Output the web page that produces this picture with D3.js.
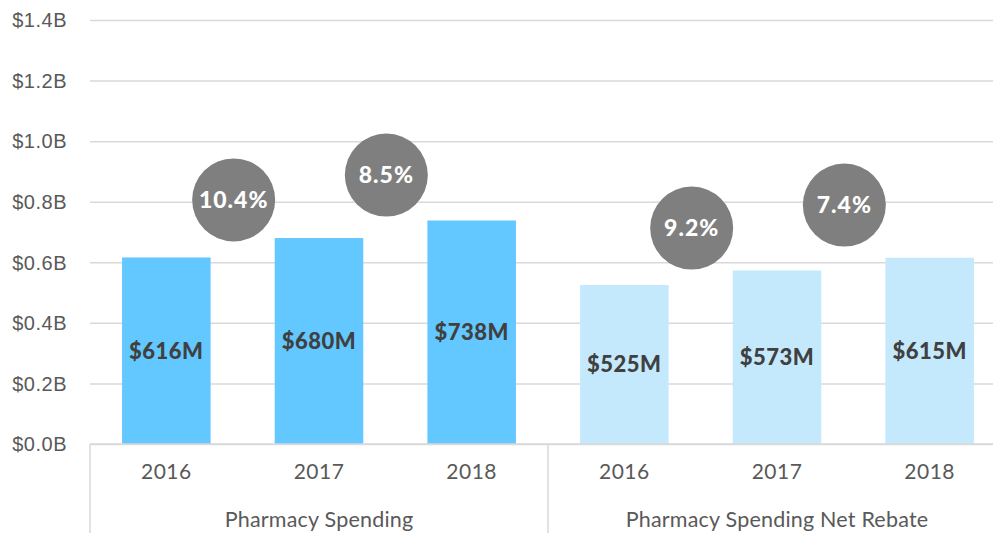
<!DOCTYPE html>
<html>
<head>
<meta charset="utf-8">
<script src="https://cdn.jsdelivr.net/npm/d3@7"></script>
<style>
  html, body { margin: 0; padding: 0; background: #fff; overflow: hidden; }
  svg { display: block; font-family: Lato, "Open Sans", sans-serif; }
</style>
</head>
<body>
<svg id="chart" width="993" height="533"></svg>
<script>
// data
const groups = ['Pharmacy Spending', 'Pharmacy Spending Net Rebate'];
const years = ['2016', '2017', '2018'];
const spending = [616, 680, 738];       // $M
const spendingNet = [525, 573, 615];    // $M
const growthSpending = [10.4, 8.5];     // % year over year
const growthNet = [9.2, 7.4];
// height (in $B) where each growth bubble sits
const bubbleAtSpending = [0.806, 0.888];
const bubbleAtNet = [0.713, 0.789];
const yTicks = [0, 0.2, 0.4, 0.6, 0.8, 1.0, 1.2, 1.4];

const colours = ['#63c8ff', '#c4e9fd'];
const grid = '#d9d9d9';

const svg = d3.select('#chart');
const margin = { left: 90, top: 20, bottom: 89 };
const height = 533;
const plotRight = 1006; // last band runs past the window edge

// one row per bar
const rows = [];
[spending, spendingNet].forEach((vals, gi) => {
    vals.forEach((v, i) => rows.push({ key: gi + '-' + years[i], group: gi, year: years[i], value: v }));
});

const x = d3.scaleBand()
    .domain(rows.map(d => d.key))
    .range([margin.left, plotRight])
    .paddingInner(0.42)
    .paddingOuter(0.21);

const y = d3.scaleLinear()
    .domain([0, 1.4])
    .range([height - margin.bottom, margin.top]);

const y0 = y(0);

// gridlines + y labels
const yAxis = svg.append('g')
    .attr('transform', 'translate(' + margin.left + ',0)')
    .call(d3.axisLeft(y)
        .tickValues(yTicks)
        .tickSize(-(plotRight - margin.left))
        .tickPadding(23)
        .tickFormat(d => '$' + d.toFixed(1) + 'B'));
yAxis.select('.domain').remove();
yAxis.selectAll('.tick line').attr('stroke', grid).attr('stroke-width', 1.5);
yAxis.selectAll('.tick text')
    .attr('fill', '#595959')
    .attr('font-size', 20)
    .attr('letter-spacing', 0.5)
    .attr('dy', '0.34em');

// bars
svg.append('g').selectAll('rect')
    .data(rows)
    .enter().append('rect')
    .attr('x', d => x(d.key))
    .attr('width', x.bandwidth())
    .attr('y', d => y(d.value / 1000))
    .attr('height', d => y0 - y(d.value / 1000))
    .attr('fill', d => colours[d.group]);

// value labels in the middle of each bar
svg.append('g').selectAll('text')
    .data(rows)
    .enter().append('text')
    .attr('x', d => x(d.key) + x.bandwidth() / 2)
    .attr('y', d => (y(d.value / 1000) + y0) / 2)
    .attr('dy', '0.36em')
    .attr('text-anchor', 'middle')
    .attr('font-size', 22)
    .attr('letter-spacing', 0.5)
    .attr('font-weight', 900)
    .attr('fill', '#404040')
    .text(d => '$' + d.value + 'M');

// growth bubbles, sitting on the band boundary between two years
const step = x.step();
const bubbles = [];
[[growthSpending, bubbleAtSpending], [growthNet, bubbleAtNet]].forEach(([g, at], gi) => {
    g.forEach((v, i) => bubbles.push({ group: gi, i: i, value: v, at: at[i] }));
});
const bx = d => x(d.group + '-' + years[d.i + 1]) - x.paddingInner() * step / 2 - 9;

const bub = svg.append('g').selectAll('g')
    .data(bubbles)
    .enter().append('g')
    .attr('transform', d => 'translate(' + bx(d) + ',' + y(d.at) + ')');
bub.append('circle')
    .attr('r', 41.5)
    .attr('fill', '#7f7f7f');
bub.append('text')
    .attr('text-anchor', 'middle')
    .attr('dy', '0.36em')
    .attr('font-size', 23)
    .attr('letter-spacing', 1)
    .attr('font-weight', 900)
    .attr('fill', '#fff')
    .text(d => d.value.toFixed(1) + '%');

// baseline and group separators
svg.append('line')
    .attr('x1', margin.left).attr('x2', plotRight)
    .attr('y1', y0).attr('y2', y0)
    .attr('stroke', grid).attr('stroke-width', 1.5);

const groupEdges = groups.map((g, gi) => x(gi + '-' + years[0]) - x.paddingOuter() * step);
svg.append('g').selectAll('line')
    .data(groupEdges)
    .enter().append('line')
    .attr('x1', d => d).attr('x2', d => d)
    .attr('y1', y0).attr('y2', height)
    .attr('stroke', grid).attr('stroke-width', 1.5);

// year labels
svg.append('g').selectAll('text')
    .data(rows)
    .enter().append('text')
    .attr('x', d => x(d.key) + x.bandwidth() / 2)
    .attr('y', y0 + 35)
    .attr('text-anchor', 'middle')
    .attr('font-size', 21)
    .attr('letter-spacing', 0.5)
    .attr('fill', '#595959')
    .text(d => d.year);

// group labels
svg.append('g').selectAll('text')
    .data(groups)
    .enter().append('text')
    .attr('x', (d, gi) => {
        const first = x(gi + '-' + years[0]);
        const last = x(gi + '-' + years[years.length - 1]) + x.bandwidth();
        return (first + last) / 2;
    })
    .attr('y', y0 + 83)
    .attr('text-anchor', 'middle')
    .attr('font-size', 21.5)
    .attr('letter-spacing', 0.2)
    .attr('fill', '#595959')
    .text(d => d);
</script>
</body>
</html>
